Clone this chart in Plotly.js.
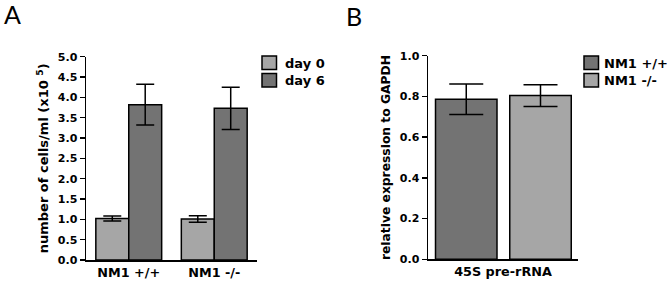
<!DOCTYPE html>
<html>
<head>
<meta charset="utf-8">
<script src="https://cdn.plot.ly/plotly-3.0.1.min.js"></script>
<style>html,body{margin:0;padding:0;background:#fff;}#chart{width:671px;height:285px;}</style>
</head>
<body>
<div id="chart"></div>
<script>
// Panel A data
var groupsA = ['NM1 +/+', 'NM1 -/-'];
var day0Values = [1.02, 1.01];
var day0Errors = [0.06, 0.08];
var day6Values = [3.82, 3.73];
var day6Errors = [0.50, 0.52];
var seriesA = ['day 0', 'day 6'];

// Panel B data
var categoryB = ['45S pre-rRNA'];
var wtValues = [0.786];
var wtErrors = [0.075];
var koValues = [0.804];
var koErrors = [0.053];
var seriesB = ['NM1 +/+', 'NM1 -/-'];

var LIGHT = '#a6a6a6', DARK = '#737373';
var FONT = 'DejaVu Sans, Verdana, sans-serif';
var barLine = {color: '#000', width: 1.5};

var traces = [
  {type: 'bar', name: seriesA[0], x: groupsA, y: day0Values, xaxis: 'x', yaxis: 'y',
   marker: {color: LIGHT, line: barLine},
   error_y: {type: 'data', array: day0Errors, visible: true, color: '#000', thickness: 1.5, width: 9}},
  {type: 'bar', name: seriesA[1], x: groupsA, y: day6Values, xaxis: 'x', yaxis: 'y',
   marker: {color: DARK, line: barLine},
   error_y: {type: 'data', array: day6Errors, visible: true, color: '#000', thickness: 1.5, width: 9}},
  {type: 'bar', name: seriesB[0], x: categoryB, y: wtValues, xaxis: 'x2', yaxis: 'y2',
   width: 0.41, offset: -0.45,
   marker: {color: DARK, line: barLine},
   error_y: {type: 'data', array: wtErrors, visible: true, color: '#000', thickness: 1.5, width: 17}},
  {type: 'bar', name: seriesB[1], x: categoryB, y: koValues, xaxis: 'x2', yaxis: 'y2',
   width: 0.41, offset: 0.045,
   marker: {color: LIGHT, line: barLine},
   error_y: {type: 'data', array: koErrors, visible: true, color: '#000', thickness: 1.5, width: 17}}
];

var axisCommon = {showgrid: false, zeroline: false, showline: true, linecolor: '#000', linewidth: 1.5,
  automargin: false, fixedrange: true};
var tickFontY = {size: 11, family: FONT, weight: 'bold', color: '#000'};
var tickFontX = {size: 12.8, family: FONT, weight: 'bold', color: '#000'};

// custom legends (paper coordinates in px)
var W = 671, H = 285;
function px(x) { return x / W; }
function py(y) { return 1 - y / H; }
var legendSpecs = [
  {names: seriesA, colors: [LIGHT, DARK], boxX: 262, textX: 283},
  {names: seriesB, colors: [DARK, LIGHT], boxX: 584, textX: 602}
];
var shapes = [], annotations = [];
legendSpecs.forEach(function (lg) {
  lg.names.forEach(function (nm, i) {
    var top = 56 + i * 17.5;
    shapes.push({type: 'rect', xref: 'paper', yref: 'paper',
      x0: px(lg.boxX), x1: px(lg.boxX + 14.5), y0: py(top + 13.5), y1: py(top),
      fillcolor: lg.colors[i], line: {color: '#000', width: 1.5}});
    annotations.push({text: nm, xref: 'paper', yref: 'paper', x: px(lg.textX), y: py(top + 7),
      xanchor: 'left', yanchor: 'middle', showarrow: false,
      font: {size: 13, family: FONT, weight: 'bold', color: '#000'}});
  });
});
annotations.push(
  {text: 'A', xref: 'paper', yref: 'paper', x: px(12), y: py(14), xanchor: 'center', yanchor: 'middle',
   showarrow: false, font: {size: 25, family: 'Lato, Open Sans, sans-serif', weight: 'normal', color: '#000'}},
  {text: 'B', xref: 'paper', yref: 'paper', x: px(354), y: py(16), xanchor: 'center', yanchor: 'middle',
   showarrow: false, font: {size: 25, family: 'Lato, Open Sans, sans-serif', weight: 'normal', color: '#000'}}
);

var layout = {
  width: W, height: H,
  margin: {l: 0, r: 0, t: 0, b: 0},
  paper_bgcolor: '#fff', plot_bgcolor: '#fff',
  font: {family: FONT, color: '#000', size: 10, weight: 'bold'},
  barmode: 'group', bargap: 0.23, bargroupgap: 0,
  showlegend: false,
  xaxis: Object.assign({}, axisCommon, {domain: [px(86), px(257)], anchor: 'y', type: 'category',
    range: [-0.5, 1.5], ticks: '', tickfont: tickFontX}),
  yaxis: Object.assign({}, axisCommon, {domain: [py(260), py(56.7)], anchor: 'x',
    range: [0, 5], dtick: 0.5, tickformat: '.1f', ticks: 'outside', ticklen: 5, tickwidth: 1.5, tickcolor: '#000',
    tickfont: tickFontY,
    title: {text: 'number of cells/ml (x10 <sup>5</sup>)', standoff: 6, font: {size: 13, family: FONT, weight: 'bold', color: '#000'}}}),
  xaxis2: Object.assign({}, axisCommon, {domain: [px(428), px(578)], anchor: 'y2', type: 'category',
    range: [-0.5, 0.5], ticks: '', tickfont: tickFontX}),
  yaxis2: Object.assign({}, axisCommon, {domain: [py(259.3), py(55.7)], anchor: 'x2',
    range: [0, 1], dtick: 0.2, tickformat: '.1f', ticks: 'outside', ticklen: 5, tickwidth: 1.5, tickcolor: '#000',
    tickfont: tickFontY,
    title: {text: 'relative expression to GAPDH', standoff: 6, font: {size: 12.3, family: FONT, weight: 'bold', color: '#000'}}}),
  shapes: shapes,
  annotations: annotations
};

Plotly.newPlot('chart', traces, layout, {displayModeBar: false, staticPlot: true});
</script>
</body>
</html>
